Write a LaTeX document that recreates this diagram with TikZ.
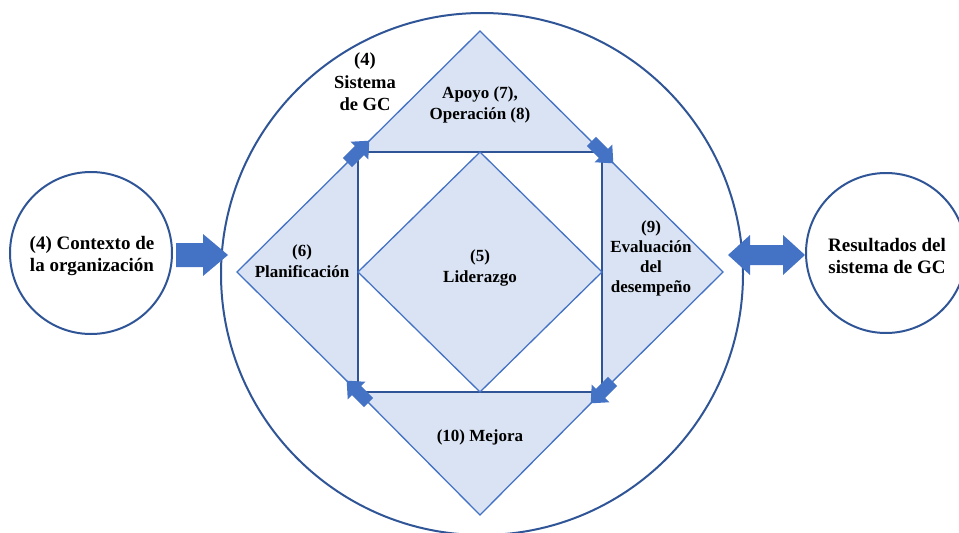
\documentclass[tikz,border=0pt]{standalone}
\usepackage{fontspec}
\setmainfont{Liberation Serif}
\definecolor{ringblue}{RGB}{47,85,151}
\definecolor{edgeblue}{RGB}{68,114,196}
\definecolor{arrowblue}{RGB}{68,114,196}
\definecolor{paleblue}{RGB}{218,227,243}
\begin{document}
\begin{tikzpicture}[x=1pt,y=-1pt,
  ring/.style={draw=ringblue,line width=2pt,fill=white,circle,inner sep=0pt},
  panel/.style={draw=edgeblue,line width=1.3pt,fill=paleblue,line join=miter},
  frame/.style={draw=ringblue,line width=1.4pt},
  blockarrow/.style={fill=arrowblue,draw=none},
  bigtext/.style={font=\fontsize{19}{22}\selectfont\bfseries,align=center,inner sep=0pt},
  smalltext/.style={font=\fontsize{17}{21}\selectfont\bfseries,align=center,inner sep=0pt}]
\clip (0,0) rectangle (959,533);

% outer circles
\node[ring,minimum size=522pt] (sys) at (482,274) {};
\node[ring,minimum size=162pt] (ctx) at (91,253) {};
\node[ring,minimum size=160pt] (res) at (886,253) {};

% corners of the inner square and apexes of the four triangles
\coordinate (tl) at (358,152);
\coordinate (tr) at (602,152);
\coordinate (br) at (602,392);
\coordinate (bl) at (358,392);
\coordinate (ctop) at (480,31);
\coordinate (cright) at (723,272);
\coordinate (cbottom) at (480,515);
\coordinate (cleft) at (237,272);

% four triangles around the square
\path[panel] (tl) -- (ctop) -- (tr) -- cycle;
\path[panel] (tr) -- (cright) -- (br) -- cycle;
\path[panel] (br) -- (cbottom) -- (bl) -- cycle;
\path[panel] (bl) -- (cleft) -- (tl) -- cycle;

% inner square and diamond
\path[frame,fill=white] (tl) -- (tr) -- (br) -- (bl) -- cycle;
\path[panel] (480,152) -- (602,272) -- (480,392) -- (358,272) -- cycle;

% cycle arrows at the square corners
\foreach \c/\ang in {tl/45, tr/-45, br/-135, bl/135}{
  \path[blockarrow,shift={(\c)},rotate=\ang]
    (-15,-6.5) -- (2,-6.5) -- (2,-12.5) -- (16,0) -- (2,12.5) -- (2,6.5) -- (-15,6.5) -- cycle;
}

% arrow from context into the system
\path[blockarrow] (176,243) -- (203,243) -- (203,234) -- (228,255)
  -- (203,276) -- (203,267) -- (176,267) -- cycle;
% two-way arrow between system and results
\path[blockarrow] (728,255) -- (750,235) -- (750,245) -- (783,245) -- (783,235)
  -- (805,255) -- (783,275) -- (783,265) -- (750,265) -- (750,275) -- cycle;

% labels
\node[bigtext] (ctxlabel) at (92,256) {(4) Contexto de\\la organización};
\node[bigtext] (reslabel) at (887,256) {Resultados del\\sistema de GC};
\node[font=\fontsize{18.5}{22.5}\selectfont\bfseries,align=center,inner sep=0pt]
  (syslabel) at (365,82) {(4)\\Sistema\\de GC};
\node[smalltext] (apoyo) at (480,105) {Apoyo (7),\\Operación (8)};
\node[smalltext] (plan) at (302,261) {(6)\\Planificación};
\node[smalltext] (lider) at (480,268) {(5)\\Liderazgo};
\node[smalltext,font=\fontsize{17}{20}\selectfont\bfseries] (eval) at (651,258) {(9)\\Evaluación\\del\\desempeño};
\node[smalltext] (mejora) at (480,437) {(10) Mejora};
\end{tikzpicture}
\end{document}
